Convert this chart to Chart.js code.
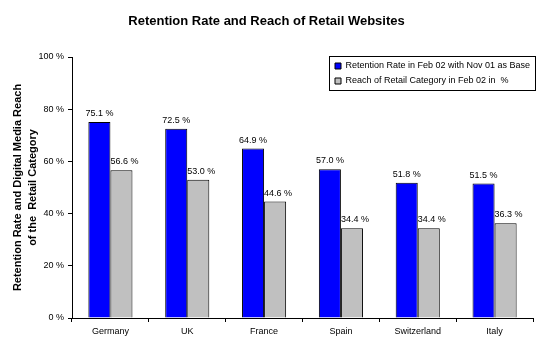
<!DOCTYPE html>
<html>
<head>
<meta charset="utf-8">
<script src="https://cdn.jsdelivr.net/npm/chart.js@4"></script>
<style>
  html, body { margin: 0; padding: 0; background: #fff; }
  #wrap { width: 542px; height: 356px; }
</style>
</head>
<body>
<div id="wrap"><canvas id="c" width="542" height="356"></canvas></div>
<script>
const categories = ["Germany", "UK", "France", "Spain", "Switzerland", "Italy"];
const retention = [75.1, 72.5, 64.9, 57.0, 51.8, 51.5];
const reach = [56.6, 53.0, 44.6, 34.4, 34.4, 36.3];
const seriesNames = ["Retention Rate in Feb 02 with Nov 01 as Base", "Reach of Retail Category in Feb 02 in  %"];
const yTicks = [0, 20, 40, 60, 80, 100];
const chartTitle = "Retention Rate and Reach of Retail Websites";
const yTitle = ["Retention Rate and Digital Media Reach", "of the  Retail Category"];

const FONT = "Arial, 'Liberation Sans', sans-serif";

const valueLabels = {
  id: 'valueLabels',
  afterDatasetsDraw(chart) {
    const ctx = chart.ctx;
    ctx.save();
    ctx.font = '9px ' + FONT;
    ctx.fillStyle = '#000';
    ctx.textAlign = 'center';
    ctx.textBaseline = 'alphabetic';
    chart.data.datasets.forEach((ds, i) => {
      const meta = chart.getDatasetMeta(i);
      const dx = i === 1 ? 3 : 0;
      meta.data.forEach((bar, j) => {
        ctx.fillText(ds.data[j].toFixed(1) + ' %', bar.x + dx, bar.y - 6);
      });
    });
    ctx.restore();
  }
};

const legendPlacer = {
  id: 'legendPlacer',
  afterLayout(chart) {
    const lg = chart.legend;
    if (!lg) return;
    lg.left = 329; lg.top = 55.5; lg.width = 206; lg.height = 80;
    lg.right = lg.left + lg.width; lg.bottom = lg.top + lg.height;
  },
  afterDraw(chart) {
    const ctx = chart.ctx;
    ctx.save();
    ctx.strokeStyle = '#000';
    ctx.lineWidth = 1;
    ctx.strokeRect(329.5, 56.5, 206, 34);
    ctx.restore();
  }
};

new Chart(document.getElementById('c'), {
  type: 'bar',
  data: {
    labels: categories,
    datasets: [
      { label: seriesNames[0], data: retention, backgroundColor: '#0000FF', borderColor: '#000', borderWidth: 1, categoryPercentage: 0.574, barPercentage: 1.0 },
      { label: seriesNames[1], data: reach, backgroundColor: '#C0C0C0', borderColor: '#000', borderWidth: 1, categoryPercentage: 0.574, barPercentage: 1.0 }
    ]
  },
  options: {
    responsive: false,
    animation: false,
    devicePixelRatio: 1,
    layout: { padding: { left: 0, right: 9, top: 0, bottom: 0 } },
    plugins: {
      title: {
        display: true, text: chartTitle, color: '#000',
        font: { family: FONT, size: 13, weight: 'bold', lineHeight: 1.2 },
        padding: { top: 13.2, bottom: 28.2 }
      },
      legend: {
        display: true, position: 'chartArea', fullSize: false, align: 'start',
        labels: {
          color: '#000', boxWidth: 6, boxHeight: 6, padding: 6,
          font: { family: FONT, size: 9 }
        }
      },
      tooltip: { enabled: false }
    },
    scales: {
      x: {
        grid: { display: true, drawOnChartArea: false, drawTicks: true, tickLength: 4, color: '#000', offset: true },
        border: { display: true, color: '#000' },
        ticks: { color: '#000', font: { family: FONT, size: 9 }, padding: 4, maxRotation: 0 },
        afterFit(s) { s.height = 38; }
      },
      y: {
        min: 0, max: 100,
        afterBuildTicks(s) { s.ticks = yTicks.map(v => ({ value: v })); },
        grid: { display: true, drawOnChartArea: false, drawTicks: true, tickLength: 4, color: '#000' },
        border: { display: true, color: '#000' },
        ticks: { color: '#000', font: { family: FONT, size: 9 }, padding: 4, callback: v => v + ' %' },
        title: {
          display: true, text: yTitle, color: '#000',
          font: { family: FONT, size: 11, weight: 'bold', lineHeight: 1.364 },
          padding: { top: 10.5, bottom: 0 }
        },
        afterFit(s) { s.width = 72; }
      }
    }
  },
  plugins: [valueLabels, legendPlacer]
});
</script>
</body>
</html>
